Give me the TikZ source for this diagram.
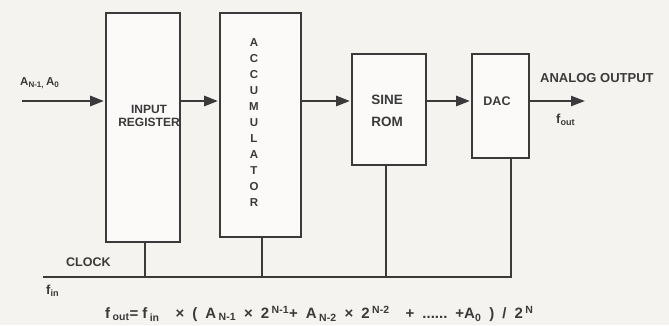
\documentclass[tikz,border=0pt]{standalone}
\usepackage{fontspec}
\setmainfont{Liberation Sans}
\usetikzlibrary{arrows.meta}
\definecolor{ink}{HTML}{3A3A3A}
\definecolor{paper}{HTML}{F5F3F0}
\newcommand{\fg}{\hspace{8pt}}
\begin{document}
\begin{tikzpicture}[x=1pt,y=-1pt,
  blk/.style={draw=ink,line width=1.8pt,inner sep=0pt,fill=white!60!paper},
  lbl/.style={text=ink,font=\bfseries\fontsize{12}{13}\selectfont,inner sep=0pt,align=center},
  flow/.style={draw=ink,line width=2.8pt,-{Triangle[length=14pt,width=10pt]},shorten >=1pt},
  wire/.style={draw=ink,line width=1.8pt}]
\fill[paper] (0,0) rectangle (669,325);
\useasboundingbox (0,0) rectangle (669,325);
% blocks
\node[blk,minimum width=74pt,minimum height=229pt] (reg) at (143,127.5) {};
\node[blk,minimum width=81pt,minimum height=224pt] (acc) at (260.5,125) {};
\node[blk,minimum width=74pt,minimum height=111pt] (rom) at (389,109.5) {};
\node[blk,minimum width=57pt,minimum height=104pt] (dac) at (500.5,106) {};
% block texts
\node[lbl] (regt) at (149,116) {INPUT\\REGISTER};
\node[lbl,font=\bfseries\fontsize{11.5}{16}\selectfont] (acct) at (254,123) {A\\C\\C\\U\\M\\U\\L\\A\\T\\O\\R};
\node[lbl,font=\bfseries\fontsize{13.5}{22}\selectfont] (romt) at (387,111) {SINE\\ROM};
\node[lbl,font=\bfseries\fontsize{12.5}{14}\selectfont] (dact) at (497,101) {DAC};
% input
\coordinate (in) at (22,101);
\node[lbl,anchor=west,font=\bfseries\fontsize{11.5}{13}\selectfont] (inl) at (20,83) {A\textsubscript{N-1,}\,A\textsubscript{0}};
\draw[flow] (in) -- (in -| reg.west);
\draw[flow] (reg.east |- 0,101) -- (acc.west |- 0,101);
\draw[flow] (acc.east |- 0,101) -- (rom.west |- 0,101);
\draw[flow] (rom.east |- 0,101) -- (dac.west |- 0,101);
\coordinate (out) at (586,101);
\draw[flow,line width=2.2pt] (dac.east |- 0,101) -- (out);
\node[lbl,anchor=west,font=\bfseries\fontsize{13}{14}\selectfont] (outl) at (540,78) {ANALOG OUTPUT};
\node[lbl,anchor=west,font=\bfseries\fontsize{13}{14}\selectfont] (foutl) at (556,120) {f\textsubscript{out}};
% clock
\coordinate (clkL) at (43,277);
\coordinate (clkR) at (511,277);
\draw[wire] (clkL) -- (clkR) -- (clkR |- dac.south);
\draw[wire] ([xshift=2pt]reg.south) -- ([xshift=2pt]reg.south |- clkL);
\draw[wire] ([xshift=1.5pt]acc.south) -- ([xshift=1.5pt]acc.south |- clkL);
\draw[wire] ([xshift=-3pt]rom.south) -- ([xshift=-3pt]rom.south |- clkL);
\node[lbl,anchor=west,font=\bfseries\fontsize{12.5}{14}\selectfont] (clkt) at (66,262) {CLOCK};
\node[lbl,anchor=west,font=\bfseries\fontsize{13}{14}\selectfont] (fin) at (46,291) {f\textsubscript{in}};
% formula
\node[lbl,anchor=west,font=\bfseries\fontsize{15}{16}\selectfont] (formula) at (105,314)
  {f\,\textsubscript{out}=\hspace{4pt}f\,\textsubscript{in}\fg\fg×\fg(\fg A\,\textsubscript{N-1}\fg×\fg2\,\textsuperscript{N-1}+\fg A\,\textsubscript{N-2}\fg×\fg2\,\textsuperscript{N-2}\fg\fg+\fg......\fg+A\textsubscript{0}\fg)\fg/\fg2\,\textsuperscript{N}};
\end{tikzpicture}
\end{document}
